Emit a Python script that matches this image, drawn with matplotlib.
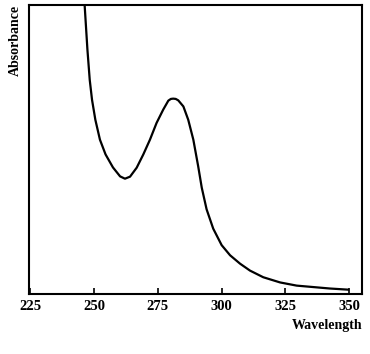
import matplotlib
matplotlib.use("Agg")
import matplotlib.pyplot as plt

# absorbance spectrum, values (arbitrary units, 0 = axis floor)
wavelength = [246.2, 246.3, 247.4, 248.3, 249.2, 250.5, 252.3, 254.5, 257.4, 260.2,
              262.1, 264.1, 266.7, 269.3, 271.9, 274.5, 277.1, 279.1, 280.1, 281.0,
              282.0, 283.0, 285.0, 286.9, 288.9, 290.8, 292.2, 294.1, 296.7, 300.0,
              303.3, 307.2, 311.1, 316.3, 322.9, 329.4, 335.9, 342.4, 349.6]
absorbance = [1.03, 1.0, 0.845, 0.741, 0.672, 0.603, 0.534, 0.483, 0.438, 0.407,
              0.399, 0.406, 0.437, 0.483, 0.534, 0.592, 0.638, 0.669, 0.675, 0.676,
              0.675, 0.670, 0.649, 0.603, 0.534, 0.442, 0.368, 0.293, 0.226, 0.169,
              0.134, 0.105, 0.081, 0.058, 0.040, 0.029, 0.024, 0.019, 0.015]
xticks = [225, 250, 275, 300, 325, 350]

serif = ["Liberation Serif", "DejaVu Serif"]

fig = plt.figure(figsize=(3.70, 3.54), dpi=100)
ax = fig.add_axes([29 / 370, 60 / 354, 333 / 370, 289 / 354])

ax.plot(wavelength, absorbance, color="black", linewidth=1.6,
        solid_joinstyle="round")

ax.set_xlim(224.5, 355.0)
ax.set_ylim(0, 1)
ax.set_xticks(xticks)
ax.set_xticklabels([str(t) for t in xticks], family=serif, fontweight="bold", fontsize=10.5)
ax.set_yticks([])
ax.tick_params(axis="x", direction="in", length=4, width=1.2, pad=4)

for side in ax.spines.values():
    side.set_linewidth(1.5)

ax.set_xlabel("Wavelength", family=serif, fontweight="bold", fontsize=10,
              loc="right", labelpad=5)
ax.set_ylabel("Absorbance", family=serif, fontweight="bold", fontsize=10,
              loc="top", labelpad=5)

fig.savefig("out.png", dpi=100)
plt.close(fig)
